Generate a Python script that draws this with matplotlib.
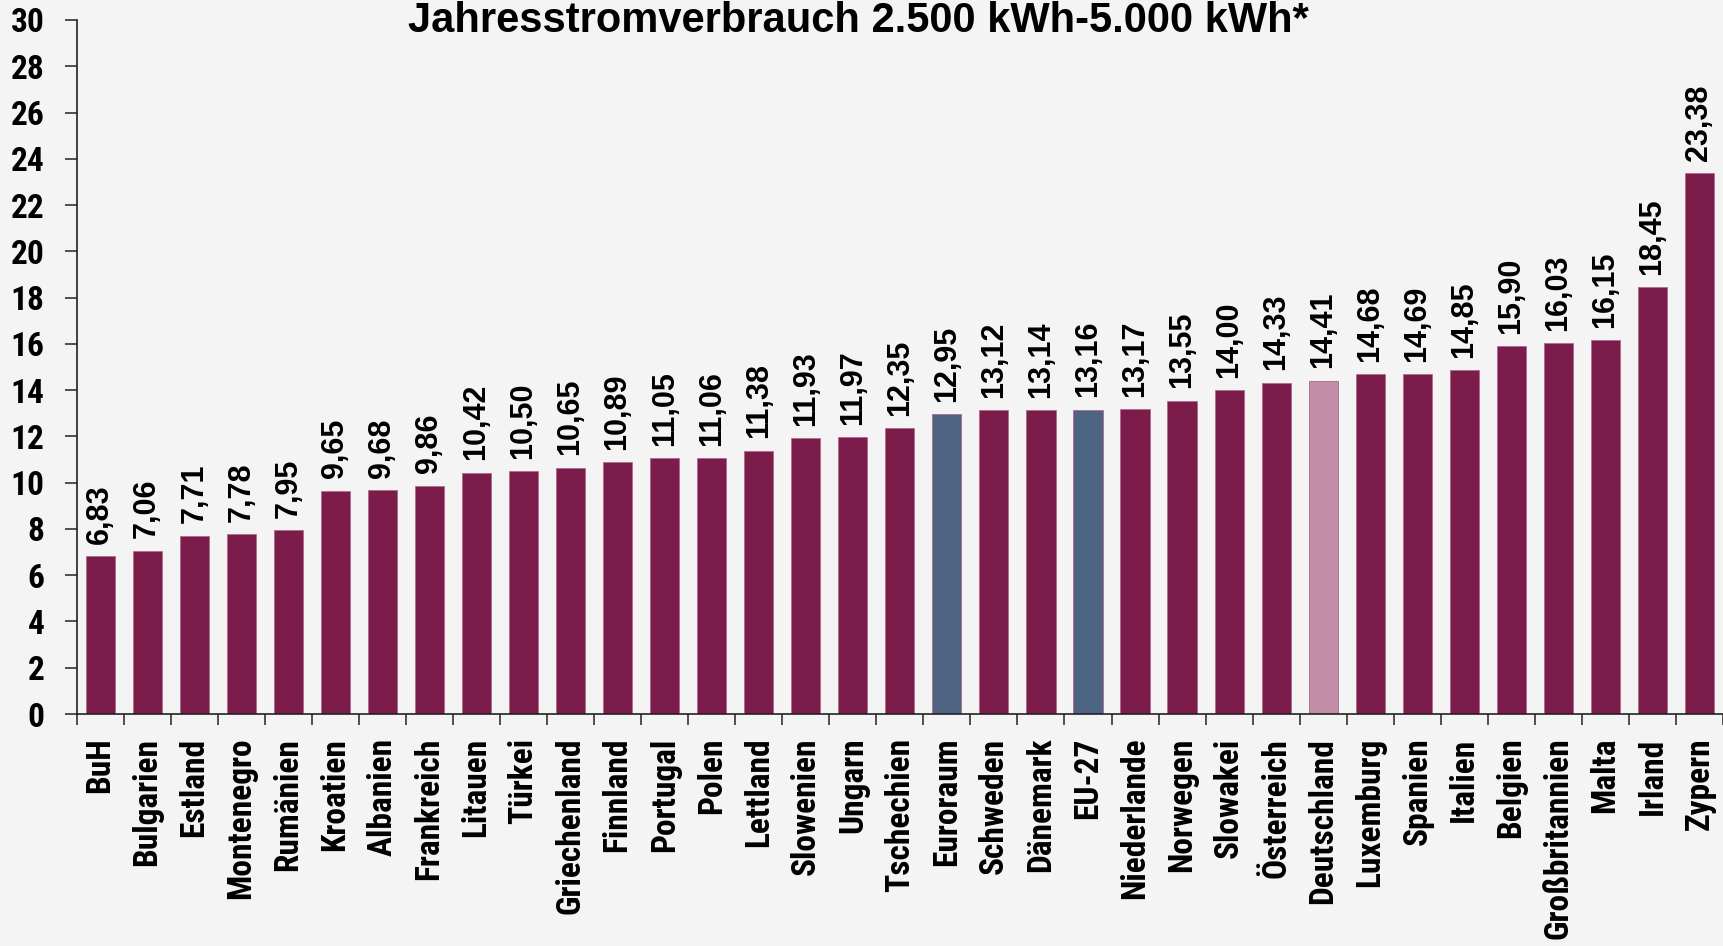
import numpy as np
import matplotlib.pyplot as plt
from matplotlib.ticker import MultipleLocator, FixedLocator

laender = ["BuH", "Bulgarien", "Estland", "Montenegro", "Rumänien", "Kroatien",
           "Albanien", "Frankreich", "Litauen", "Türkei", "Griechenland", "Finnland",
           "Portugal", "Polen", "Lettland", "Slowenien", "Ungarn", "Tschechien",
           "Euroraum", "Schweden", "Dänemark", "EU-27", "Niederlande", "Norwegen",
           "Slowakei", "Österreich", "Deutschland", "Luxemburg", "Spanien", "Italien",
           "Belgien", "Großbritannien", "Malta", "Irland", "Zypern"]
preise = [6.83, 7.06, 7.71, 7.78, 7.95, 9.65, 9.68, 9.86, 10.42, 10.50, 10.65, 10.89,
          11.05, 11.06, 11.38, 11.93, 11.97, 12.35, 12.95, 13.12, 13.14, 13.16, 13.17,
          13.55, 14.00, 14.33, 14.41, 14.68, 14.69, 14.85, 15.90, 16.03, 16.15, 18.45,
          23.38]
titel = "Jahresstromverbrauch 2.500 kWh-5.000 kWh*"

bg = "#f4f4f4"
farbe = []
for l in laender:
    if l in ("Euroraum", "EU-27"):
        farbe.append("#4c6482")
    elif l == "Deutschland":
        farbe.append("#c08ca6")
    else:
        farbe.append("#7c1c4a")

# schmale Schrift fuer die Achsen (wie Arial Narrow)
narrow = ["Roboto Condensed", "PT Sans Narrow", "Liberation Sans", "DejaVu Sans"]
normal = ["Liberation Sans", "DejaVu Sans"]

fig = plt.figure(figsize=(17.23, 9.46), dpi=100, facecolor=bg)
ax = fig.add_axes([0.0445, 0.2452, 0.9555, 0.7337])
ax.set_facecolor(bg)

x = np.arange(len(laender))
ax.bar(x, preise, width=0.62, color=farbe, edgecolor="#b06a8c", linewidth=0.6)

for xi, v in zip(x, preise):
    ax.annotate(("%.2f" % v).replace(".", ","), (xi, v), xytext=(0, 9),
                textcoords="offset points", rotation=90, ha="center", va="bottom",
                fontsize=22, fontweight="bold", family=normal)

ax.set_ylim(0, 30)
ax.set_xlim(-0.5, len(laender) - 0.5)
ax.yaxis.set_major_locator(MultipleLocator(2))
ax.set_xticks(x)
ax.set_xticklabels(laender, rotation=90, fontsize=24, fontweight="bold", family=narrow)
ax.xaxis.set_minor_locator(FixedLocator(np.arange(-0.5, len(laender), 1)))
ax.tick_params(axis="x", which="major", length=0, pad=17)
ax.tick_params(axis="x", which="minor", length=8, width=1.2, color="#333333")
ax.tick_params(axis="y", length=9, width=1.2, color="#333333", pad=14)
for lab in ax.get_yticklabels():
    lab.set_fontsize(24)
    lab.set_fontweight("bold")
    lab.set_family(narrow)

for s in ["top", "right"]:
    ax.spines[s].set_visible(False)
for s in ["left", "bottom"]:
    ax.spines[s].set_linewidth(1.2)
    ax.spines[s].set_color("#222222")

fig.text(0.498, 0.978, titel, ha="center", va="center", fontsize=30,
         fontweight="bold", family=normal)

fig.savefig("out.png", dpi=100, facecolor=bg)
